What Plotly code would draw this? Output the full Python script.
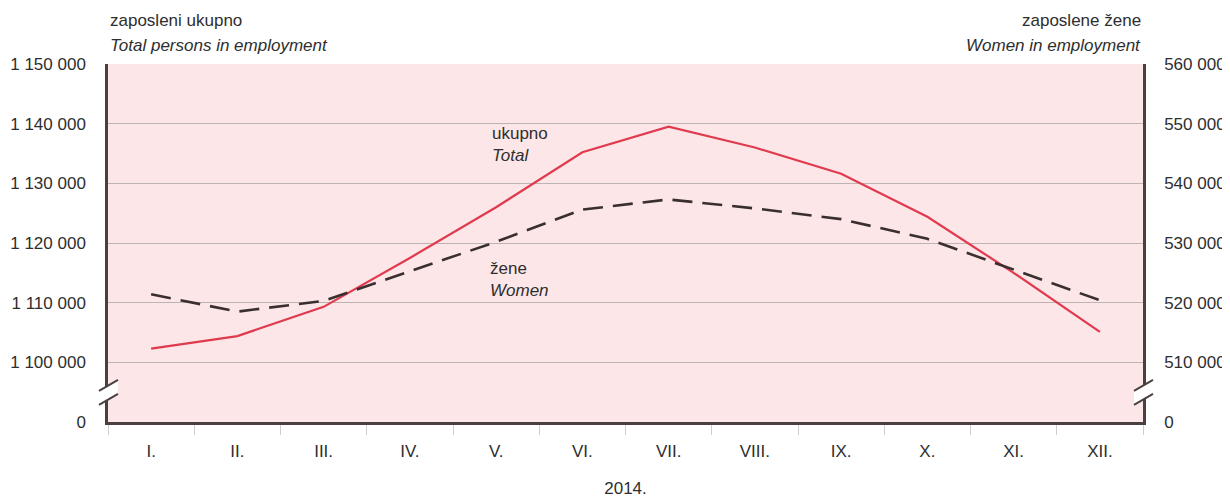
import plotly.graph_objects as go

months = ["I.", "II.", "III.", "IV.", "V.", "VI.", "VII.", "VIII.", "IX.", "X.", "XI.", "XII."]
total = [1102300, 1104400, 1109300, 1117500, 1126000, 1135200, 1139500, 1136000, 1131600, 1124400, 1115000, 1105100]
women = [521400, 518500, 520300, 525300, 530200, 535600, 537300, 535800, 534000, 530700, 525500, 520400]

left_ticks = [1090000, 1100000, 1110000, 1120000, 1130000, 1140000, 1150000]
left_text = ["0", "1 100 000", "1 110 000", "1 120 000", "1 130 000", "1 140 000", "1 150 000"]
right_ticks = [500000, 510000, 520000, 530000, 540000, 550000, 560000]
right_text = ["0", "510 000", "520 000", "530 000", "540 000", "550 000", "560 000"]

FONT = "Liberation Sans, Arial, sans-serif"
TXT = "#2e2e2e"
FS = 17

fig = go.Figure()
fig.add_trace(go.Scatter(x=months, y=total, mode="lines", name="Total",
                         line=dict(color="#e03a4e", width=2.2), yaxis="y"))
fig.add_trace(go.Scatter(x=months, y=women, mode="lines", name="Women",
                         line=dict(color="#3a2f2f", width=2.6, dash="20px,10px"), yaxis="y2"))

fig.update_layout(
    width=1230, height=497,
    margin=dict(l=100, r=95, t=56, b=83),
    paper_bgcolor="white", plot_bgcolor="#fde6e8",
    showlegend=False,
    font=dict(family=FONT, size=FS, color=TXT),
    xaxis=dict(
        type="category", tickson="boundaries", ticks="outside", ticklen=10,
        tickcolor="#cfcfcf", tickwidth=1, showgrid=False, automargin=False,
        showline=True, linecolor="#4a4040", linewidth=2.5,
        tickfont=dict(size=FS, color=TXT), ticklabelstandoff=12,
        title=dict(text="2014.", font=dict(size=FS, color=TXT), standoff=22),
        range=[-0.5, 11.5],
    ),
    yaxis=dict(
        range=[1090000, 1150000], tickvals=left_ticks, ticktext=left_text,
        showgrid=True, gridcolor="#bdb3b3", gridwidth=1.2, automargin=False,
        showline=True, linecolor="#4a4040", linewidth=2.5,
        ticks="", ticklabelstandoff=16, zeroline=False,
        tickfont=dict(size=FS, color=TXT),
    ),
    yaxis2=dict(
        range=[500000, 560000], tickvals=right_ticks, ticktext=right_text,
        overlaying="y", side="right", showgrid=False, automargin=False,
        showline=True, linecolor="#4a4040", linewidth=2.5,
        ticks="", ticklabelstandoff=15, zeroline=False,
        tickfont=dict(size=FS, color=TXT),
    ),
)

annotations = [
    dict(x=0, y=1, xref="paper", yref="paper", xanchor="left", yanchor="middle", yshift=44,
         text="zaposleni ukupno", showarrow=False, font=dict(size=FS, color=TXT)),
    dict(x=0, y=1, xref="paper", yref="paper", xanchor="left", yanchor="middle", yshift=19,
         text="<i>Total persons in employment</i>", showarrow=False, font=dict(size=FS, color=TXT)),
    dict(x=1, y=1, xref="paper", yref="paper", xanchor="right", yanchor="middle", yshift=44,
         text="zaposlene žene", showarrow=False, font=dict(size=FS, color=TXT)),
    dict(x=1, y=1, xref="paper", yref="paper", xanchor="right", yanchor="middle", yshift=19,
         text="<i>Women in employment</i>", showarrow=False, font=dict(size=FS, color=TXT)),
    dict(x=3.93, y=1140300, xref="x", yref="y", xanchor="left", yanchor="top",
         text="ukupno<br><i>Total</i>", showarrow=False, align="left", font=dict(size=FS, color=TXT)),
    dict(x=3.9, y=1117700, xref="x", yref="y", xanchor="left", yanchor="top",
         text="žene<br><i>Women</i>", showarrow=False, align="left", font=dict(size=FS, color=TXT)),
]
fig.update_layout(annotations=annotations)

# axis break marks
shapes = []
for xa in (0, 1):
    common = dict(xref="paper", yref="y", xsizemode="pixel", ysizemode="pixel",
                  xanchor=xa, yanchor=1094200)
    shapes.append(dict(type="path", path="M -9,6 L 10,17 L 10,3 L -9,-8 Z",
                       fillcolor="white", line=dict(width=0), **common))
    shapes.append(dict(type="line", x0=-9, y0=6, x1=10, y1=17,
                       line=dict(color="#4a4040", width=2), **common))
    shapes.append(dict(type="line", x0=-9, y0=-8, x1=10, y1=3,
                       line=dict(color="#4a4040", width=2), **common))
fig.update_layout(shapes=shapes)

fig.write_html("out.html")
